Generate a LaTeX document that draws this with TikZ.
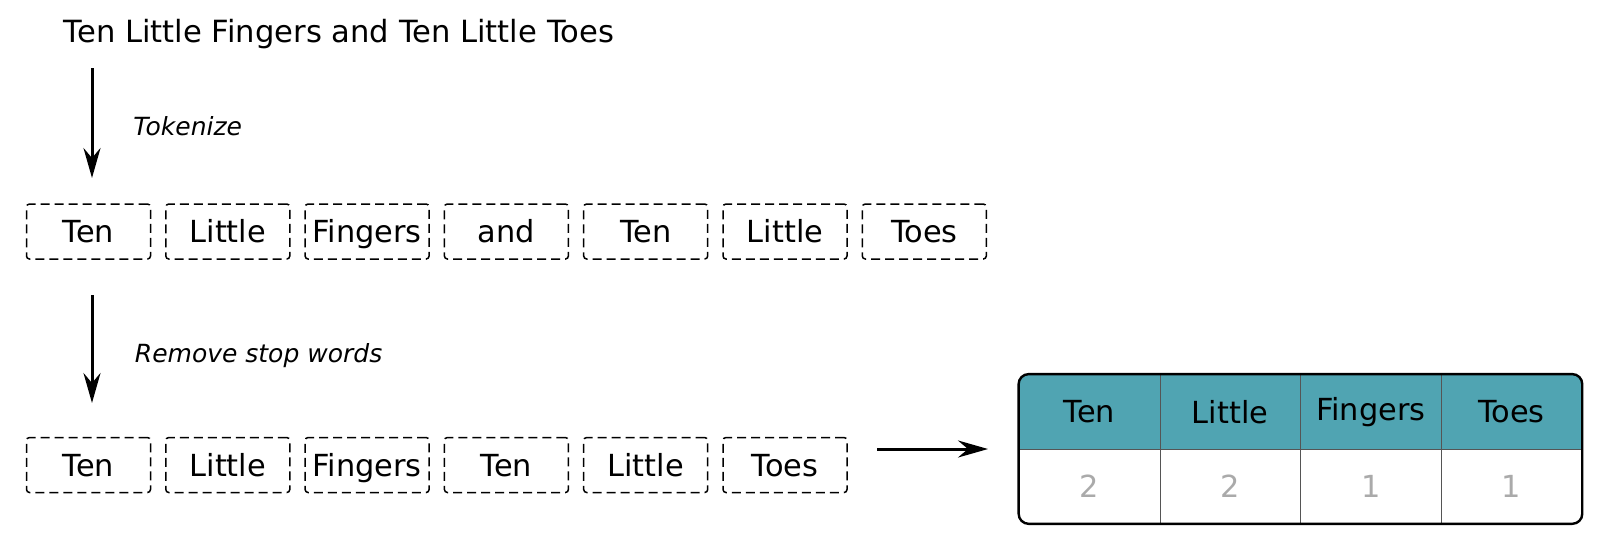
\documentclass[tikz,border=0pt]{standalone}
\usepackage{fontspec}
\setmainfont{DejaVu Sans}
\usetikzlibrary{arrows.meta}
\definecolor{hdr}{HTML}{50A4B2}
\definecolor{numgray}{HTML}{AAAAAA}
\definecolor{divgray}{HTML}{555555}
\begin{document}
\begin{tikzpicture}[x=0.5pt,y=-0.5pt,
  word/.style={draw, dash pattern=on 4.5pt off 2.5pt, line width=0.75pt, rounded corners=1.5pt,
    minimum width=62pt, minimum height=27.5pt, inner sep=0pt,
    font=\fontsize{15.2}{18}\selectfont, text height=11pt, text depth=0pt},
  arr/.style={line width=1.5pt, -{Stealth[length=15pt,width=8.5pt,inset=5pt]}},
  lbl/.style={anchor=base west, inner sep=0pt, font=\fontsize{12.5}{15}\selectfont\itshape},
  hcell/.style={minimum width=70.375pt, minimum height=37.25pt, inner sep=0pt,
    font=\fontsize{15.2}{18}\selectfont},
  ncell/.style={minimum width=70.375pt, minimum height=37.2pt, inner sep=0pt,
    text=numgray, font=\fontsize{15.2}{18}\selectfont, text height=11pt, text depth=0pt}]
\useasboundingbox (0,0) rectangle (1622,554);

% title
\node[anchor=base west, inner sep=0pt, font=\fontsize{15.3}{18}\selectfont] (title) at (63.5,42.5)
  {Ten Little Fingers and Ten Little Toes};

% arrow 1
\coordinate (a1s) at (92,68);
\coordinate (a1e) at (92,178);
\draw[arr] (a1s) -- (a1e);
\node[lbl] (tok) at (133,135) {Tokenize};

% row 1
\foreach \w [count=\i] in {Ten,Little,Fingers,and,Ten,Little,Toes}{
  \node[word] (r1-\i) at ({88.5+139.3*(\i-1)},231.5) {\w};
}

% arrow 2
\coordinate (a2s) at (92,295);
\coordinate (a2e) at (92,403);
\draw[arr] (a2s) -- (a2e);
\node[lbl] (rsw) at (134.5,362) {Remove stop words};

% row 2
\foreach \w [count=\i] in {Ten,Little,Fingers,Ten,Little,Toes}{
  \node[word] (r2-\i) at ({88.5+139.3*(\i-1)},465) {\w};
}

% table cells
\foreach \w/\n [count=\i] in {Ten/2,Little/2,Fingers/1,Toes/1}{
  \node[hcell] (h\i) at ({1089.4+140.7*(\i-1)},411.75) {\w};
  \node[ncell] (n\i) at ({1089.4+140.7*(\i-1)},486.2) {\n};
}
\begin{scope}
  \clip[rounded corners=5pt] (h1.north west) rectangle (n4.south east);
  \fill[hdr] (h1.north west) rectangle (h4.south east);
\end{scope}
\foreach \w [count=\i] in {Ten,Little,Fingers,Toes}{
  \node[hcell] at (h\i) {\w};
}
\draw[divgray, line width=0.5pt] (h1.south west) -- (h4.south east);
\foreach \i in {1,2,3}{
  \draw[divgray, line width=0.5pt] (h\i.north east) -- (n\i.south east);
}
\draw[line width=1.2pt, rounded corners=5pt] (h1.north west) rectangle (n4.south east);

% arrow 3
\coordinate (a3s) at (877,449);
\coordinate (a3e) at (988,449);
\draw[arr] (a3s) -- (a3e);
\end{tikzpicture}
\end{document}
